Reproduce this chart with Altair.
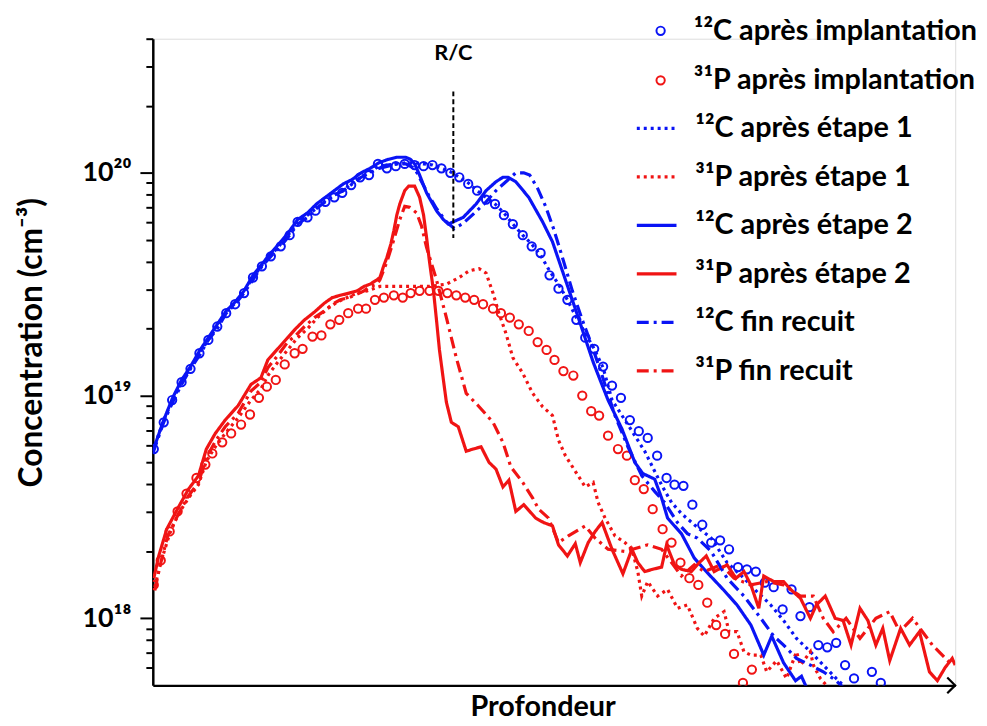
import altair as alt
import pandas as pd

FONT = "Lato"
BLUE = "#0a14f5"
RED = "#f01414"

# ---- series labels -------------------------------------------------------
L_C_IMPL = "¹²C après implantation"
L_P_IMPL = "³¹P après implantation"
L_C_E1 = "¹²C après étape 1"
L_P_E1 = "³¹P après étape 1"
L_C_E2 = "¹²C après étape 2"
L_P_E2 = "³¹P après étape 2"
L_C_FR = "¹²C fin recuit"
L_P_FR = "³¹P fin recuit"

# ---- data: depth (a.u.) and log10 of concentration (cm^-3) ---------------
c_impl_depth = [1, 11, 19.5, 29, 38, 47, 56, 65, 74, 83,
                92, 101, 110, 119, 129, 138, 146, 156, 164, 174,
                183, 191, 200, 209, 218, 227, 236, 245, 254, 264,
                273, 282, 291, 300, 309, 318, 327, 336, 345, 354,
                363, 373, 382, 391, 400, 409, 418, 427, 436, 445,
                454, 463, 472, 481, 490, 499, 508.5, 518, 526, 535,
                544, 554, 563, 572, 581, 590, 599, 608, 617, 626,
                635, 644, 653, 662, 671, 680, 689, 698, 707, 725, 734]
c_impl_log = [18.76, 18.88, 18.98, 19.06, 19.12, 19.19, 19.25, 19.31, 19.37, 19.41,
              19.46, 19.53, 19.58, 19.625, 19.67, 19.72, 19.78, 19.80, 19.83, 19.87,
              19.89, 19.91, 19.945, 19.98, 19.99, 20.04, 20.02, 20.03, 20.04, 20.035,
              20.03, 20.035, 20.02, 20.00, 19.98, 19.95, 19.92, 19.88, 19.86, 19.81,
              19.77, 19.72, 19.67, 19.64, 19.54, 19.48, 19.43, 19.34, 19.26, 19.21,
              19.13, 19.045, 18.99, 18.89, 18.84, 18.81, 18.73, 18.63, 18.60, 18.595,
              18.51, 18.42, 18.34, 18.35, 18.31, 18.23, 18.22, 18.21, 18.16, 18.14,
              18.04, 18.13, 18.01, 18.05, 17.88, 17.87, 17.89, 17.79, 17.73, 17.76, 17.71]

p_impl_depth = [1, 8, 17, 25, 34, 44, 53, 60, 70, 79,
                89, 98, 107, 115, 124, 133, 143, 151, 161, 170,
                179, 188, 197, 207, 215, 224, 233, 243, 252, 260,
                269, 279, 288, 297, 306, 315, 324, 333, 343, 351,
                360, 369, 379, 388, 397, 405, 414, 424, 433, 442,
                450, 459, 469, 478, 486, 495, 504, 514, 523, 532,
                541, 550, 559, 568, 577, 586, 595, 604]
p_impl_log = [18.15, 18.26, 18.39, 18.48, 18.56, 18.63, 18.69, 18.74, 18.79, 18.83,
              18.87, 18.915, 18.99, 19.04, 19.07, 19.14, 19.19, 19.21, 19.265, 19.27,
              19.32, 19.34, 19.37, 19.39, 19.39, 19.43, 19.44, 19.45, 19.44, 19.46,
              19.47, 19.47, 19.47, 19.46, 19.45, 19.44, 19.43, 19.41, 19.39, 19.37,
              19.35, 19.32, 19.29, 19.24, 19.205, 19.16, 19.11, 19.09, 19.00, 18.93,
              18.91, 18.82, 18.76, 18.73, 18.62, 18.58, 18.49, 18.40, 18.34, 18.25,
              18.18, 18.15, 18.07, 17.97, 17.93, 17.84, 17.71, 17.77]

c_e1_depth = [0, 11, 20, 29, 38, 47, 56, 65, 74, 83,
              92, 101, 110, 119, 129, 138, 146, 156, 165, 174,
              183, 192, 201, 210, 219, 228, 237, 246, 255, 264,
              273, 282, 291, 300, 309, 318, 327, 336, 345, 354,
              363, 373, 382, 391, 400, 409, 418, 427, 436, 445,
              454, 463, 476, 486, 496, 506, 514, 523, 533, 546,
              563, 579, 596, 609, 623, 636, 649, 663, 676, 689, 696]
c_e1_log = [18.75, 18.89, 18.98, 19.06, 19.125, 19.19, 19.25, 19.31, 19.375, 19.415,
            19.47, 19.53, 19.585, 19.63, 19.68, 19.73, 19.78, 19.81, 19.84, 19.875,
            19.90, 19.92, 19.955, 19.98, 20.005, 20.03, 20.035, 20.04, 20.045, 20.045,
            20.04, 20.035, 20.02, 20.005, 19.98, 19.955, 19.92, 19.89, 19.86, 19.82,
            19.77, 19.72, 19.68, 19.63, 19.56, 19.50, 19.43, 19.35, 19.28, 19.21,
            19.125, 18.98, 18.89, 18.82, 18.75, 18.66, 18.59, 18.52, 18.47, 18.42,
            18.36, 18.25, 18.18, 18.12, 18.06, 17.99, 17.91, 17.85, 17.79, 17.73, 17.70]

p_e1_depth = [2, 8, 17, 26, 36, 46, 54, 63, 73, 86,
              99, 109, 116, 126, 136, 146, 156, 166, 176, 186,
              196, 206, 216, 229, 249, 266, 279, 296, 309, 319,
              329, 336, 343, 349, 356, 363, 373, 383, 393, 403,
              409, 416, 426, 436, 444, 449, 456, 466, 476, 483,
              489, 493, 499, 509, 519, 529, 539, 549, 556, 566,
              576, 581, 589, 596, 603, 613, 619, 629, 639, 649,
              653, 663, 666, 673, 679]
p_e1_log = [18.14, 18.25, 18.38, 18.47, 18.54, 18.60, 18.705, 18.77, 18.83, 18.90,
            18.98, 19.03, 19.09, 19.15, 19.205, 19.26, 19.30, 19.35, 19.39, 19.42,
            19.44, 19.46, 19.47, 19.49, 19.49, 19.49, 19.49, 19.50, 19.53, 19.56,
            19.57, 19.55, 19.46, 19.37, 19.28, 19.17, 19.10, 19.01, 18.95, 18.91,
            18.80, 18.73, 18.66, 18.59, 18.61, 18.52, 18.45, 18.37, 18.34, 18.31,
            18.21, 18.10, 18.165, 18.10, 18.13, 18.045, 18.06, 17.955, 17.92, 18.00,
            18.03, 17.94, 17.94, 17.85, 17.835, 17.835, 17.76, 17.81, 17.73, 17.85,
            17.79, 17.85, 17.79, 17.73, 17.70]

c_e2_depth = [0, 11, 20, 29, 38, 47, 56, 65, 74, 83,
              92, 101, 110, 119, 129, 138, 146, 156, 165, 174,
              183, 192, 201, 210, 219, 228, 237, 246, 255, 260,
              264, 269, 276, 286, 293, 298, 303, 313, 326, 336,
              346, 353, 358, 366, 379, 393, 403, 416, 429, 444,
              451, 459, 473, 486, 494, 506, 513, 519, 533, 546,
              558, 576, 589, 603, 616, 624, 636, 648, 654, 659]
c_e2_log = [18.75, 18.89, 18.99, 19.07, 19.13, 19.20, 19.26, 19.32, 19.38, 19.42,
            19.47, 19.54, 19.59, 19.64, 19.69, 19.74, 19.79, 19.82, 19.86, 19.89,
            19.92, 19.95, 19.97, 20.00, 20.02, 20.045, 20.06, 20.07, 20.07, 20.06,
            20.04, 19.99, 19.91, 19.83, 19.79, 19.77, 19.78, 19.80, 19.86, 19.92,
            19.96, 19.98, 19.98, 19.96, 19.89, 19.78, 19.69, 19.52, 19.35, 19.15,
            19.07, 18.98, 18.85, 18.70, 18.65, 18.625, 18.54, 18.45, 18.38, 18.27,
            18.21, 18.125, 18.06, 17.97, 17.835, 17.92, 17.80, 17.72, 17.74, 17.69]

p_e2_depth = [1, 6, 14, 26, 36, 46, 54, 63, 73, 86,
              99, 109, 116, 126, 136, 144, 153, 163, 173, 181,
              189, 198, 206, 213, 219, 226, 229, 233, 236, 240,
              243, 246, 249, 254, 258, 264, 269, 273, 276, 279,
              283, 286, 289, 293, 296, 301, 308, 316, 323, 331,
              339, 346, 353, 359, 366, 374, 380, 386, 394, 403,
              409, 418, 426, 431, 439, 446, 453, 463, 474, 483,
              489, 496, 504, 513, 518, 526, 533, 543, 551, 558,
              566, 579, 588, 596, 603, 611, 616, 626, 636, 643,
              653, 663, 669, 678, 688, 696, 704, 713, 721, 729,
              736, 743, 754, 763, 773, 783, 791, 799, 806, 809]
p_e2_log = [18.18, 18.28, 18.40, 18.50, 18.58, 18.64, 18.76, 18.83, 18.89, 18.955,
            19.05, 19.08, 19.16, 19.21, 19.26, 19.30, 19.34, 19.375, 19.415, 19.44,
            19.45, 19.46, 19.47, 19.49, 19.50, 19.52, 19.53, 19.585, 19.62, 19.68,
            19.74, 19.81, 19.86, 19.92, 19.94, 19.94, 19.89, 19.81, 19.71, 19.60,
            19.47, 19.34, 19.205, 19.07, 18.97, 18.88, 18.86, 18.75, 18.76, 18.77,
            18.70, 18.67, 18.59, 18.62, 18.48, 18.51, 18.48, 18.45, 18.43, 18.415,
            18.33, 18.28, 18.335, 18.25, 18.34, 18.39, 18.43, 18.31, 18.20, 18.31,
            18.25, 18.21, 18.22, 18.23, 18.33, 18.24, 18.22, 18.21, 18.25, 18.28,
            18.21, 18.24, 18.18, 18.21, 18.15, 18.045, 18.19, 18.165, 18.165, 18.13,
            18.09, 18.00, 18.06, 18.10, 18.00, 17.99, 17.88, 18.045, 17.99, 17.88,
            17.955, 17.81, 17.955, 17.88, 17.94, 17.76, 17.72, 17.78, 17.82, 17.79]

c_fr_depth = [0, 11, 20, 29, 38, 47, 56, 65, 74, 83,
              92, 101, 110, 119, 129, 138, 146, 156, 165, 174,
              183, 192, 201, 210, 219, 228, 237, 246, 255, 264,
              271, 278, 286, 296, 304, 312, 322, 334, 346, 356,
              366, 374, 380, 388, 396, 404, 413, 423, 433, 443,
              453, 466, 479, 493, 506, 516, 529, 539, 549, 563,
              579, 596, 613, 626, 636, 649, 663, 676, 689, 696]
c_fr_log = [18.74, 18.88, 18.97, 19.05, 19.12, 19.18, 19.25, 19.30, 19.37, 19.41,
            19.46, 19.52, 19.58, 19.625, 19.67, 19.72, 19.77, 19.80, 19.84, 19.87,
            19.90, 19.92, 19.95, 19.98, 20.00, 20.02, 20.03, 20.04, 20.04, 20.02,
            19.96, 19.90, 19.84, 19.78, 19.75, 19.77, 19.81, 19.86, 19.92, 19.96,
            20.00, 20.00, 19.99, 19.93, 19.85, 19.75, 19.62, 19.47, 19.34, 19.22,
            19.09, 18.91, 18.77, 18.64, 18.57, 18.52, 18.43, 18.38, 18.36, 18.30,
            18.18, 18.10, 18.00, 17.92, 17.88, 17.82, 17.79, 17.76, 17.72, 17.69]

p_fr_depth = [2, 7, 15, 26, 36, 46, 54, 63, 73, 86,
              99, 109, 116, 126, 136, 144, 153, 163, 173, 181,
              189, 198, 206, 213, 219, 226, 229, 236, 243, 249,
              254, 259, 266, 271, 276, 286, 296, 306, 316, 329,
              343, 353, 361, 373, 383, 389, 399, 409, 419, 436,
              446, 459, 476, 499, 513, 523, 533, 546, 556, 573,
              586, 603, 619, 636, 653, 666, 676, 686, 699, 713,
              729, 743, 753, 766, 776, 786, 796, 806]
p_fr_log = [18.125, 18.23, 18.37, 18.47, 18.55, 18.61, 18.72, 18.795, 18.86, 18.92,
            19.02, 19.06, 19.125, 19.18, 19.24, 19.27, 19.31, 19.35, 19.38, 19.41,
            19.43, 19.44, 19.455, 19.47, 19.49, 19.50, 19.52, 19.60, 19.70, 19.79,
            19.85, 19.845, 19.82, 19.76, 19.665, 19.52, 19.35, 19.17, 19.01, 18.95,
            18.88, 18.79, 18.68, 18.61, 18.54, 18.49, 18.45, 18.34, 18.37, 18.415,
            18.36, 18.31, 18.30, 18.33, 18.31, 18.25, 18.19, 18.24, 18.21, 18.24,
            18.18, 18.15, 18.165, 18.15, 18.10, 18.10, 18.00, 17.94, 18.00, 17.91,
            18.00, 18.03, 17.94, 18.00, 17.94, 17.88, 17.835, 17.79]

# annotation (R/C interface) and axis ticks
rc_depth = [303]
rc_top = [2.32e20]
rc_bottom = [5.1e19]
rc_label_conc = [3.45e20]
Y_TICKS = [6e17, 7e17, 8e17, 9e17,
           1e18, 2e18, 3e18, 4e18, 5e18, 6e18, 7e18, 8e18, 9e18,
           1e19, 2e19, 3e19, 4e19, 5e19, 6e19, 7e19, 8e19, 9e19,
           1e20, 2e20, 3e20, 4e20]
X_MAX = 809
Y_MIN, Y_MAX = 5e17, 4e20


def frame(label, depths, logs):
    return pd.DataFrame({"serie": label, "depth": depths,
                         "conc": [10.0 ** v for v in logs]})


pts_df = pd.concat([frame(L_C_IMPL, c_impl_depth, c_impl_log),
                    frame(L_P_IMPL, p_impl_depth, p_impl_log)])
lines_df = pd.concat([frame(L_C_E1, c_e1_depth, c_e1_log),
                      frame(L_P_E1, p_e1_depth, p_e1_log),
                      frame(L_C_E2, c_e2_depth, c_e2_log),
                      frame(L_P_E2, p_e2_depth, p_e2_log),
                      frame(L_C_FR, c_fr_depth, c_fr_log),
                      frame(L_P_FR, p_fr_depth, p_fr_log)])

line_labels = [L_C_E1, L_P_E1, L_C_E2, L_P_E2, L_C_FR, L_P_FR]
line_colors = [BLUE, RED, BLUE, RED, BLUE, RED]
DOT = [3, 4]
DASHDOT = [12, 5, 3, 5]
line_dashes = [DOT, DOT, [1, 0], [1, 0], DASHDOT, DASHDOT]
line_widths = [3.2, 3.2, 2, 2, 2, 2]

xscale = alt.Scale(domain=[0, X_MAX], nice=False, zero=False)
yscale = alt.Scale(type="log", domain=[Y_MIN, Y_MAX], nice=False)

major_test = "datum.value == 1e18 || datum.value == 1e19 || datum.value == 1e20"
yaxis = alt.Axis(
    values=Y_TICKS,
    labelExpr="datum.value == 1e18 ? '10¹⁸' : datum.value == 1e19 ? '10¹⁹' : datum.value == 1e20 ? '10²⁰' : ''",
    tickSize={"condition": {"test": major_test, "value": 13}, "value": 7},
    tickWidth=2, tickColor="black",
    domainWidth=2.5, domainColor="black",
    labelFont=FONT, labelFontSize=27, labelFontWeight="bold", labelColor="black",
    labelPadding=9, labelOverlap=False, labelFlush=False, labelBound=False,
    grid=False,
    title="Concentration (cm⁻³)", titleFont=FONT, titleFontSize=32,
    titleFontWeight="bold", titleColor="black",
    titleX=-122, titleY=306, titleAlign="center", titleBaseline="middle",
)
xaxis = alt.Axis(
    labels=False, ticks=False, grid=False,
    domainWidth=2.5, domainColor="black",
    title="Profondeur", titleFont=FONT, titleFontSize=29,
    titleFontWeight="bold", titleColor="black",
    titleX=393, titleY=21, titleAlign="center", titleBaseline="middle",
)

leg_common = dict(orient="none", labelFont=FONT, labelFontSize=29,
                  labelFontWeight="bold", labelColor="black", labelLimit=600,
                  padding=0, direction="vertical")

points = alt.Chart(pts_df).mark_point(filled=False, size=70, strokeWidth=2,
                                      opacity=1, clip=True).encode(
    x=alt.X("depth:Q", scale=xscale, axis=xaxis),
    y=alt.Y("conc:Q", scale=yscale, axis=yaxis),
    color=alt.Color("serie:N", title=None,
                    scale=alt.Scale(domain=[L_C_IMPL, L_P_IMPL], range=[BLUE, RED]),
                    legend=alt.Legend(legendX=497.5, legendY=-22.5, symbolType="circle",
                                      symbolSize=70, symbolStrokeWidth=2,
                                      symbolOpacity=1,
                                      labelOffset=19, rowPadding=20, **leg_common)),
)

line_legend = alt.Legend(legendX=486, legendY=68.4, symbolType="stroke",
                         symbolSize=1600, symbolStrokeWidth=2.5,
                         labelOffset=17, rowPadding=11.9, **leg_common)
lines = alt.Chart(lines_df).mark_line(clip=True).encode(
    x=alt.X("depth:Q", scale=xscale, axis=xaxis),
    y=alt.Y("conc:Q", scale=yscale, axis=yaxis),
    color=alt.Color("serie:N", title=None,
                    scale=alt.Scale(domain=line_labels, range=line_colors),
                    legend=line_legend),
    strokeDash=alt.StrokeDash("serie:N", title=None,
                              scale=alt.Scale(domain=line_labels, range=line_dashes),
                              legend=line_legend),
    strokeWidth=alt.StrokeWidth("serie:N",
                                scale=alt.Scale(domain=line_labels, range=line_widths),
                                legend=None),
)

rc_df = pd.DataFrame({"depth": rc_depth, "top": rc_top, "bottom": rc_bottom,
                      "lab": rc_label_conc, "text": ["R/C"]})
rc_rule = alt.Chart(rc_df).mark_rule(color="black", strokeWidth=2,
                                     strokeDash=[5, 3]).encode(
    x="depth:Q", y="top:Q", y2="bottom:Q")
rc_text = alt.Chart(rc_df).mark_text(font=FONT, fontSize=22, fontWeight="bold",
                                     color="black").encode(
    x="depth:Q", y="lab:Q", text="text:N")

arrow_df = pd.DataFrame({"depth": [X_MAX], "conc": [Y_MIN]})
arrow = alt.Chart(arrow_df).mark_point(shape="M-1,-1L0,0L-1,1", filled=False,
                                       size=256, strokeWidth=2.2, color="black",
                                       opacity=1).encode(
    x="depth:Q", y="conc:Q")

chart = alt.layer(points, lines, rc_rule, rc_text, arrow).resolve_scale(
    color="independent", strokeDash="independent", strokeWidth="independent"
).resolve_legend(color="independent").properties(
    width=809, height=652,
    padding={"left": 146, "top": 28, "right": 24, "bottom": 38},
    autosize=alt.AutoSizeParams(type="none"),
).configure_view(strokeWidth=0).configure(background="white")

chart.save("out.html", embed_options={"renderer": "svg", "actions": False})
